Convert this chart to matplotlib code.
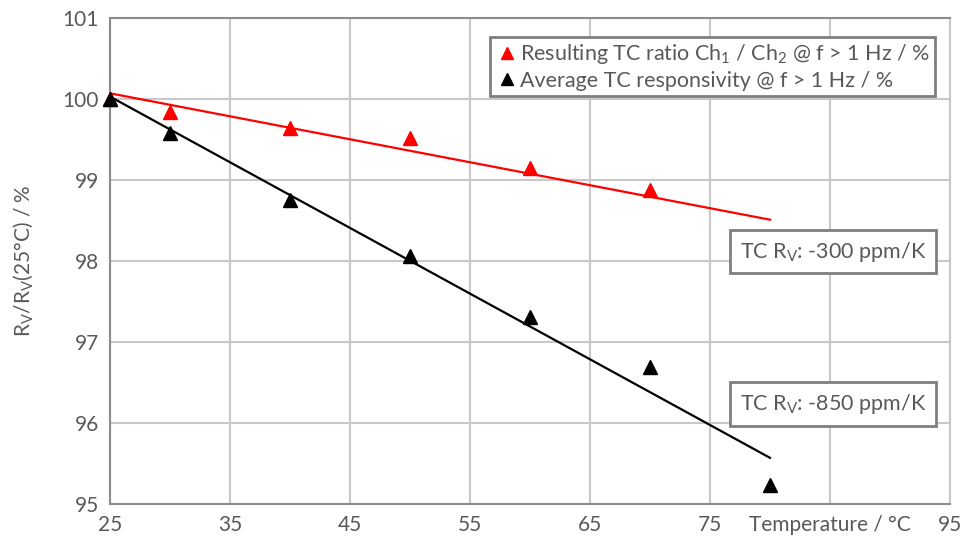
import matplotlib.pyplot as plt
from matplotlib.lines import Line2D

plt.rcParams['font.family'] = ['Lato', 'DejaVu Sans']
plt.rcParams['mathtext.fontset'] = 'custom'
plt.rcParams['mathtext.rm'] = 'Lato'
plt.rcParams['mathtext.it'] = 'Lato:italic'

# measured points (temperature in degC, value in %)
temp = [25, 30, 40, 50, 60, 70]
ratio = [100.0, 99.84, 99.64, 99.52, 99.15, 98.88]
temp_resp = [25, 30, 40, 50, 60, 70, 80]
resp = [100.0, 99.58, 98.75, 98.06, 97.31, 96.69, 95.23]

# trend line ends
fit_t = [25, 80]
ratio_fit = [100.07, 98.51]
resp_fit = [100.03, 95.57]

xticks = [25, 35, 45, 55, 65, 75, 85, 95]
xlabels = ['25', '35', '45', '55', '65', '75', 'Temperature / °C', '95']
yticks = [95, 96, 97, 98, 99, 100, 101]

gray = '#595959'
grid = '#c8c8c8'
frame = '#8c8c8c'
fs = 15
fs_box = 15.5

fig = plt.figure(figsize=(9.64, 5.47), dpi=100)
ax = fig.add_axes([0.1141, 0.0786, 0.8714, 0.8885])

ax.plot(fit_t, ratio_fit, color='#ff0000', lw=1.6, zorder=3)
ax.plot(fit_t, resp_fit, color='black', lw=1.6, zorder=3)
ax.plot(temp, ratio, '^', color='#ff0000', ms=10, zorder=4, clip_on=False)
ax.plot(temp_resp, resp, '^', color='black', ms=10, zorder=4, clip_on=False)

ax.set_xlim(25, 95)
ax.set_ylim(95, 101)
ax.set_xticks(xticks)
ax.set_xticklabels(xlabels)
ax.set_yticks(yticks)
ax.grid(True, color=grid, lw=1.5, zorder=0)
ax.set_axisbelow(True)
ax.tick_params(length=0, labelsize=fs, colors=gray, pad=8)
for s in ['left', 'bottom', 'top']:
    ax.spines[s].set_color(frame)
    ax.spines[s].set_linewidth(1.5)
ax.spines['right'].set_color(grid)
ax.spines['right'].set_linewidth(1.5)

ax.set_ylabel(r'R$_\mathrm{V}$/R$_\mathrm{V}$(25°C) / %', fontsize=fs, color=gray, labelpad=20)

handles = [
    Line2D([], [], marker='^', color='#ff0000', ls='none', ms=9),
    Line2D([], [], marker='^', color='black', ls='none', ms=9),
]
labels = [r'Resulting TC ratio Ch$_\mathrm{1}$ / Ch$_\mathrm{2}$ @ f > 1 Hz / %',
          'Average TC responsivity @ f > 1 Hz / %']
leg = ax.legend(handles, labels, loc='upper right', bbox_to_anchor=(0.982, 0.961),
                fontsize=fs_box, handletextpad=0.1, handlelength=1.0,
                fancybox=False, framealpha=1, borderpad=0.25, labelspacing=0.2,
                borderaxespad=0)
leg.get_frame().set_edgecolor('#7f7f7f')
leg.get_frame().set_linewidth(2)
for t in leg.get_texts():
    t.set_color(gray)

box = dict(boxstyle='square,pad=0.45', fc='white', ec='#7f7f7f', lw=2)
ax.text(0.861, 0.519, r'TC R$_\mathrm{V}$: -300 ppm/K', transform=ax.transAxes,
        ha='center', va='center', fontsize=fs_box, color=gray, bbox=box, zorder=5)
ax.text(0.861, 0.206, r'TC R$_\mathrm{V}$: -850 ppm/K', transform=ax.transAxes,
        ha='center', va='center', fontsize=fs_box, color=gray, bbox=box, zorder=5)

fig.savefig('out.png', dpi=100)
